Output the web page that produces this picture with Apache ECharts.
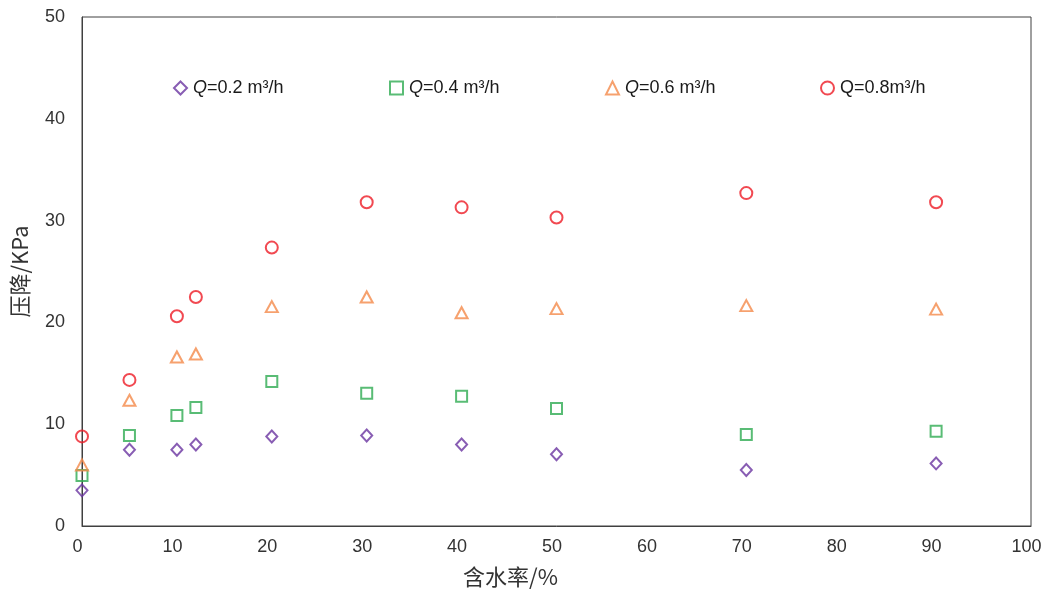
<!DOCTYPE html>
<html>
<head>
<meta charset="utf-8">
<script src="https://cdn.jsdelivr.net/npm/echarts@6/dist/echarts.min.js"></script>
<style>html,body{margin:0;padding:0;background:#fff}#c{width:1043px;height:590px}</style>
</head>
<body>
<div id="c"></div>
<script>
const waterCut = [0, 5, 10, 12, 20, 30, 40, 50, 70, 90];
const q02 = [3.5, 7.5, 7.5, 8.0, 8.8, 8.9, 8.0, 7.05, 5.5, 6.15];
const q04 = [4.95, 8.9, 10.85, 11.65, 14.2, 13.05, 12.75, 11.55, 9.0, 9.3];
const q06 = [6.0, 12.35, 16.6, 16.9, 21.55, 22.5, 20.95, 21.35, 21.65, 21.3];
const q08 = [8.8, 14.35, 20.6, 22.5, 27.35, 31.8, 31.3, 30.3, 32.7, 31.8];
const seriesNames = ['Q=0.2 m³/h', 'Q=0.4 m³/h', 'Q=0.6 m³/h', 'Q=0.8m³/h'];
const xTicks = [0, 10, 20, 30, 40, 50, 60, 70, 80, 90, 100];
const yTicks = [0, 10, 20, 30, 40, 50];

const colors = ['#6a34a0', '#2fab52', '#f4894a', '#ee1c25'];
const symbols = ['diamond', 'rect', 'triangle', 'circle'];
const sizes = [[11, 12], 11, [12, 11], 12];
const values = [q02, q04, q06, q08];
const italicQ = [true, true, true, false];
const legendLeft = [173, 389, 605, 820];

const font = '"Liberation Sans", Arial, sans-serif';
const cjk = '"Noto Sans CJK SC", "Liberation Sans", sans-serif';

const series = values.map((vals, i) => ({
  name: seriesNames[i],
  type: 'scatter',
  symbol: symbols[i],
  symbolSize: sizes[i],
  data: waterCut.map((x, j) => [x, vals[j]]),
  itemStyle: { color: 'rgba(0,0,0,0)', borderColor: colors[i], borderWidth: 2 }
}));

const legends = seriesNames.map((n, i) => ({
  data: [n],
  left: legendLeft[i],
  top: 79,
  itemWidth: 13,
  itemHeight: 13,
  itemGap: 0,
  padding: 0,
  formatter: function (name) {
    return italicQ[i] ? '{i|Q}' + name.slice(1) : name;
  },
  textStyle: {
    fontFamily: font, fontSize: 18, color: '#1a1a1a', padding: [0, 0, 0, 1],
    rich: { i: { fontFamily: font, fontSize: 18, fontStyle: 'italic', color: '#1a1a1a' } }
  }
}));

const chart = echarts.init(document.getElementById('c'), null, { renderer: 'canvas' });
chart.setOption({
  backgroundColor: '#fff',
  animation: false,
  grid: { left: 82, top: 17, right: 12, bottom: 64, show: true, borderColor: '#404040', borderWidth: 1,
          containLabel: false, outerBoundsMode: 'none' },
  legend: legends,
  xAxis: {
    type: 'value', min: 0, max: 100, interval: 10,
    name: '含水率/%', nameLocation: 'middle', nameGap: 40,
    nameTextStyle: { fontFamily: cjk, fontSize: 22, color: '#333', padding: [0, 92, 0, 0] },
    axisLine: { show: true, lineStyle: { color: '#404040', width: 1 } },
    axisTick: { show: false },
    splitLine: { show: false },
    axisLabel: {
      fontFamily: font, fontSize: 18, color: '#333', margin: 12, padding: [0, 9, 0, 0],
      formatter: v => xTicks.includes(v) ? String(v) : ''
    }
  },
  yAxis: {
    type: 'value', min: 0, max: 50, interval: 10,
    name: '压降/KPa', nameLocation: 'middle', nameGap: 51, nameRotate: 90,
    nameTextStyle: { fontFamily: cjk, fontSize: 22, color: '#333' },
    axisLine: { show: true, lineStyle: { color: '#404040', width: 1 } },
    axisTick: { show: false },
    splitLine: { show: false },
    axisLabel: {
      fontFamily: font, fontSize: 18, color: '#333', margin: 17,
      formatter: v => yTicks.includes(v) ? String(v) : ''
    }
  },
  series: series
});
</script>
</body>
</html>
